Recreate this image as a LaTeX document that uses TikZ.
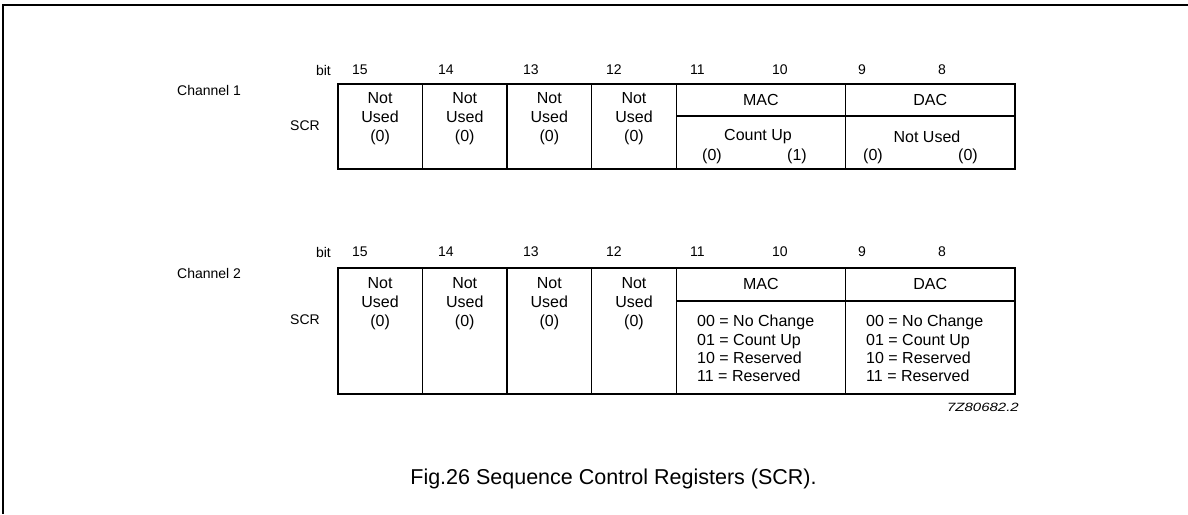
\documentclass[tikz,border=0pt]{standalone}
\usepackage{fontspec}
\setmainfont{Liberation Sans}
\begin{document}
\begin{tikzpicture}[x=1pt,y=-1pt,
  cell/.style={draw, line width=1.6pt, inner sep=0pt, anchor=north west},
  txt/.style={font=\fontsize{16}{19}\selectfont, inner sep=0pt, align=center},
  lst/.style={font=\fontsize{16}{18.3}\selectfont, inner sep=0pt, align=left, anchor=north west},
  lbl/.style={font=\fontsize{14}{16}\selectfont, inner sep=0pt},
  frame/.style={line width=1.8pt}]
\useasboundingbox (0,0) rectangle (1188,514);
% outer frame (top and left)
\coordinate (ftl) at (3,5);
\coordinate (ftr) at (1188,5);
\coordinate (fbl) at (3,514);
\draw[frame] (ftr) -- (ftl) -- (fbl);

% ---------------- Channel 1 ----------------
\node[lbl, anchor=west] (ch1) at (177,90) {Channel 1};
\node[lbl, anchor=east] (scr1) at (320,126) {SCR};
\node[lbl, anchor=east] (bit1) at (331,70) {bit};
\foreach \n/\x in {15/352,14/438,13/523,12/606,11/690,10/772,9/858,8/938}
  \node[lbl, anchor=west] (b1n\n) at (\x,70) {\n};

\node[cell, minimum width=84.625pt, minimum height=85pt] (a15) at (337,83) {};
\node[cell, minimum width=84.625pt, minimum height=85pt] (a14) at (421.625,83) {};
\node[cell, minimum width=84.625pt, minimum height=85pt] (a13) at (506.25,83) {};
\node[cell, minimum width=84.625pt, minimum height=85pt] (a12) at (590.875,83) {};
\node[cell, minimum width=169.25pt, minimum height=32pt] (amach) at (675.5,83) {};
\node[cell, minimum width=169.25pt, minimum height=53pt] (amacl) at (675.5,115) {};
\node[cell, minimum width=169.25pt, minimum height=32pt] (adach) at (844.75,83) {};
\node[cell, minimum width=169.25pt, minimum height=53pt] (adacl) at (844.75,115) {};

\foreach \c in {a15,a14,a13,a12}
  \node[txt, anchor=north, yshift=-9pt] (\c t) at (\c.north) {Not\\Used\\(0)};
\node[txt] (amact) at (amach.center) {MAC};
\node[txt] (adact) at (adach.center) {DAC};
\node[txt] (acu) at (758,137) {Count Up};
\node[txt] (acu0) at (712,156) {(0)};
\node[txt] (acu1) at (797,156) {(1)};
\node[txt] (anu) at (927,137) {Not Used};
\node[txt] (anu0) at (873,156) {(0)};
\node[txt] (anu1) at (968,156) {(0)};

% ---------------- Channel 2 ----------------
\node[lbl, anchor=west] (ch2) at (177,273) {Channel 2};
\node[lbl, anchor=east] (scr2) at (320,320) {SCR};
\node[lbl, anchor=east] (bit2) at (331,252) {bit};
\foreach \n/\x in {15/352,14/438,13/523,12/606,11/690,10/772,9/858,8/938}
  \node[lbl, anchor=west] (b2n\n) at (\x,252) {\n};

\node[cell, minimum width=84.625pt, minimum height=126pt] (c15) at (337,267) {};
\node[cell, minimum width=84.625pt, minimum height=126pt] (c14) at (421.625,267) {};
\node[cell, minimum width=84.625pt, minimum height=126pt] (c13) at (506.25,267) {};
\node[cell, minimum width=84.625pt, minimum height=126pt] (c12) at (590.875,267) {};
\node[cell, minimum width=169.25pt, minimum height=33pt] (cmach) at (675.5,267) {};
\node[cell, minimum width=169.25pt, minimum height=93pt] (cmacl) at (675.5,300) {};
\node[cell, minimum width=169.25pt, minimum height=33pt] (cdach) at (844.75,267) {};
\node[cell, minimum width=169.25pt, minimum height=93pt] (cdacl) at (844.75,300) {};

\foreach \c in {c15,c14,c13,c12}
  \node[txt, anchor=north, yshift=-10pt] (\c t) at (\c.north) {Not\\Used\\(0)};
\node[txt] (cmact) at (cmach.center) {MAC};
\node[txt] (cdact) at (cdach.center) {DAC};
\node[lst] (cmacv) at (697,315) {00 = No Change\\01 = Count Up\\10 = Reserved\\11 = Reserved};
\node[lst] (cdacv) at (866,315) {00 = No Change\\01 = Count Up\\10 = Reserved\\11 = Reserved};

% code and caption
\node[inner sep=0pt, anchor=east, font=\fontsize{12}{14}\selectfont\itshape] (code) at (1019,407) {\scalebox{1.25}[1]{7Z80682.2}};
\node[inner sep=0pt, font=\fontsize{21.5}{24}\selectfont] (cap) at (613.5,479) {Fig.26 Sequence Control Registers (SCR).};
\end{tikzpicture}
\end{document}
